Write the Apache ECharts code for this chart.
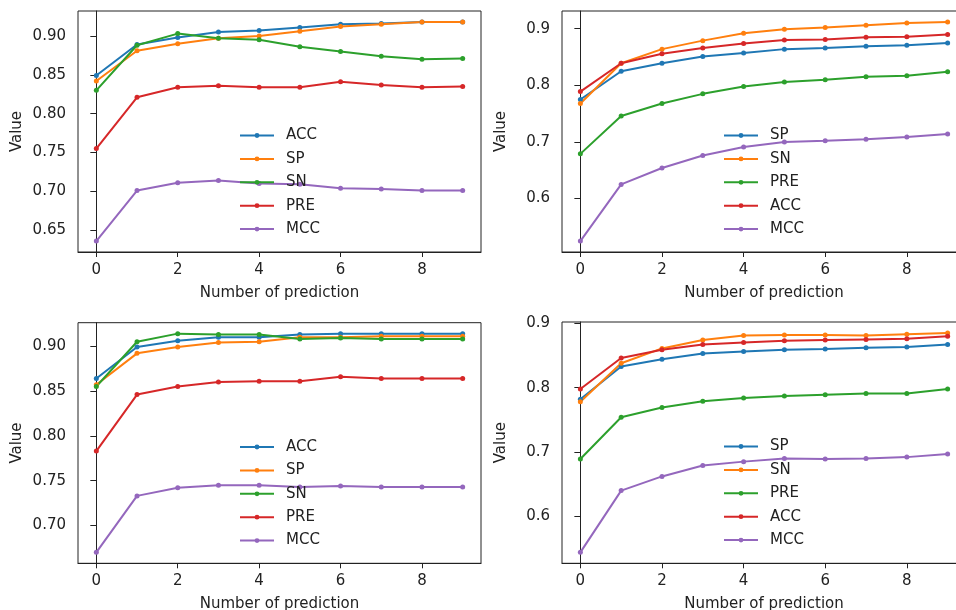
<!DOCTYPE html>
<html>
<head>
<meta charset="utf-8">
<script src="https://cdn.jsdelivr.net/npm/echarts@6/dist/echarts.min.js"></script>
<style>
  html, body { margin: 0; padding: 0; background: #fff; }
  #chart { width: 956px; height: 610px; }
</style>
</head>
<body>
<div id="chart"></div>
<script>
// ---------- data ----------
const steps = [0, 1, 2, 3, 4, 5, 6, 7, 8, 9];
const xTicks = [0, 2, 4, 6, 8];

// Panel 1 (top-left)
const p1ACC = [0.849, 0.889, 0.898, 0.905, 0.907, 0.911, 0.915, 0.916, 0.918, 0.918];
const p1SP  = [0.842, 0.881, 0.890, 0.897, 0.900, 0.906, 0.912, 0.915, 0.918, 0.918];
const p1SN  = [0.830, 0.888, 0.903, 0.897, 0.895, 0.886, 0.880, 0.874, 0.870, 0.871];
const p1PRE = [0.755, 0.821, 0.834, 0.836, 0.834, 0.834, 0.841, 0.837, 0.834, 0.835];
const p1MCC = [0.636, 0.701, 0.711, 0.714, 0.710, 0.709, 0.704, 0.703, 0.701, 0.701];
const p1Ticks = [0.65, 0.70, 0.75, 0.80, 0.85, 0.90];

// Panel 2 (top-right)
const p2SP  = [0.775, 0.825, 0.839, 0.851, 0.857, 0.864, 0.866, 0.869, 0.871, 0.875];
const p2SN  = [0.768, 0.839, 0.864, 0.879, 0.892, 0.899, 0.902, 0.906, 0.910, 0.912];
const p2PRE = [0.679, 0.746, 0.768, 0.785, 0.798, 0.806, 0.810, 0.815, 0.817, 0.824];
const p2ACC = [0.789, 0.839, 0.856, 0.866, 0.874, 0.880, 0.881, 0.885, 0.886, 0.890];
const p2MCC = [0.525, 0.625, 0.654, 0.676, 0.691, 0.700, 0.702, 0.705, 0.709, 0.714];
const p2Ticks = [0.6, 0.7, 0.8, 0.9];

// Panel 3 (bottom-left)
const p3ACC = [0.864, 0.899, 0.906, 0.910, 0.910, 0.913, 0.914, 0.914, 0.914, 0.914];
const p3SP  = [0.857, 0.892, 0.899, 0.904, 0.905, 0.910, 0.910, 0.911, 0.911, 0.911];
const p3SN  = [0.855, 0.905, 0.914, 0.913, 0.913, 0.908, 0.909, 0.908, 0.908, 0.908];
const p3PRE = [0.783, 0.846, 0.855, 0.860, 0.861, 0.861, 0.866, 0.864, 0.864, 0.864];
const p3MCC = [0.670, 0.733, 0.742, 0.745, 0.745, 0.743, 0.744, 0.743, 0.743, 0.743];
const p3Ticks = [0.70, 0.75, 0.80, 0.85, 0.90];

// Panel 4 (bottom-right)
const p4SP  = [0.782, 0.833, 0.844, 0.853, 0.856, 0.859, 0.860, 0.862, 0.863, 0.867];
const p4SN  = [0.778, 0.838, 0.861, 0.874, 0.881, 0.882, 0.882, 0.881, 0.883, 0.885];
const p4PRE = [0.689, 0.754, 0.769, 0.779, 0.784, 0.787, 0.789, 0.791, 0.791, 0.798];
const p4ACC = [0.798, 0.846, 0.859, 0.867, 0.870, 0.873, 0.874, 0.875, 0.876, 0.880];
const p4MCC = [0.544, 0.640, 0.662, 0.679, 0.685, 0.690, 0.689, 0.690, 0.692, 0.697];
const p4Ticks = [0.6, 0.7, 0.8, 0.9];

// ---------- styling ----------
const C = { blue: '#1f77b4', orange: '#ff7f0e', green: '#2ca02c', red: '#d62728', purple: '#9467bd' };
const FONT = 'DejaVu Sans';
const FS = 15;
const INK = '#222';

const panels = [
  { grid: { left: 78, top: 11, width: 403, height: 241 }, ticks: p1Ticks, dec: 2, legend: { left: 239, top: 127.5 },
    series: [['ACC', p1ACC, C.blue], ['SP', p1SP, C.orange], ['SN', p1SN, C.green], ['PRE', p1PRE, C.red], ['MCC', p1MCC, C.purple]] },
  { grid: { left: 562, top: 11, width: 404, height: 241 }, ticks: p2Ticks, dec: 1, legend: { left: 723, top: 127.5 },
    series: [['SP', p2SP, C.blue], ['SN', p2SN, C.orange], ['PRE', p2PRE, C.green], ['ACC', p2ACC, C.red], ['MCC', p2MCC, C.purple]] },
  { grid: { left: 78, top: 322.7, width: 403, height: 240.6 }, ticks: p3Ticks, dec: 2, legend: { left: 239, top: 439 },
    series: [['ACC', p3ACC, C.blue], ['SP', p3SP, C.orange], ['SN', p3SN, C.green], ['PRE', p3PRE, C.red], ['MCC', p3MCC, C.purple]] },
  { grid: { left: 562, top: 322, width: 404, height: 241.3 }, ticks: p4Ticks, dec: 1, legend: { left: 723, top: 438.5 },
    series: [['SP', p4SP, C.blue], ['SN', p4SN, C.orange], ['PRE', p4PRE, C.green], ['ACC', p4ACC, C.red], ['MCC', p4MCC, C.purple]] }
];

const grids = [], xAxes = [], yAxes = [], series = [], legends = [];

panels.forEach((p, i) => {
  grids.push(Object.assign({ show: true, borderColor: INK, borderWidth: 1, backgroundColor: 'transparent',
                             containLabel: false, outerBoundsMode: 'none' }, p.grid));
  let all = [];
  p.series.forEach(s => { all = all.concat(s[1]); });
  const dmin = Math.min(...all), dmax = Math.max(...all);
  const pad = 0.05 * (dmax - dmin);

  xAxes.push({
    type: 'value', gridIndex: i, min: -0.45, max: 9.45,
    axisLine: { show: true, onZero: false, lineStyle: { color: INK, width: 1 } },
    axisTick: { show: true, inside: false, length: 5, customValues: xTicks, lineStyle: { color: INK, width: 1 } },
    axisLabel: { customValues: xTicks, margin: 10.5, fontSize: FS, fontFamily: FONT, color: INK },
    splitLine: { show: false },
    name: 'Number of prediction', nameLocation: 'middle', nameGap: 33.5,
    nameTextStyle: { fontSize: FS, fontFamily: FONT, color: INK }
  });
  yAxes.push({
    type: 'value', gridIndex: i, min: dmin - pad, max: dmax + pad,
    axisLine: { show: true, lineStyle: { color: INK, width: 1 } },
    axisTick: { show: true, inside: false, length: 6, customValues: p.ticks, lineStyle: { color: INK, width: 1 } },
    axisLabel: { customValues: p.ticks, margin: 12, fontSize: FS, fontFamily: FONT, color: INK,
                 formatter: v => Number(v).toFixed(p.dec) },
    splitLine: { show: false },
    name: 'Value', nameLocation: 'middle', nameRotate: 90, nameGap: 53,
    nameTextStyle: { fontSize: FS, fontFamily: FONT, color: INK }
  });

  const names = [];
  p.series.forEach(s => {
    const nm = 'p' + (i + 1) + '_' + s[0];
    names.push(nm);
    series.push({
      type: 'line', name: nm, xAxisIndex: i, yAxisIndex: i,
      data: steps.map((x, k) => [x, s[1][k]]),
      symbol: 'circle', symbolSize: 5, showSymbol: true,
      lineStyle: { color: s[2], width: 2 },
      itemStyle: { color: s[2] },
      emphasis: { disabled: true },
      clip: false
    });
  });
  legends.push({
    data: names, orient: 'vertical', left: p.legend.left, top: p.legend.top,
    padding: 0, itemWidth: 34, itemHeight: 6, itemGap: 7.4,
    selectedMode: false,
    formatter: n => n.split('_')[1],
    textStyle: { fontSize: FS, fontFamily: FONT, color: INK, lineHeight: 16, padding: [0, 0, 0, 7] }
  });
});

const chart = echarts.init(document.getElementById('chart'), null, { renderer: 'canvas' });
chart.setOption({
  backgroundColor: '#fff',
  animation: false,
  grid: grids, xAxis: xAxes, yAxis: yAxes, legend: legends, series: series
});
</script>
</body>
</html>
